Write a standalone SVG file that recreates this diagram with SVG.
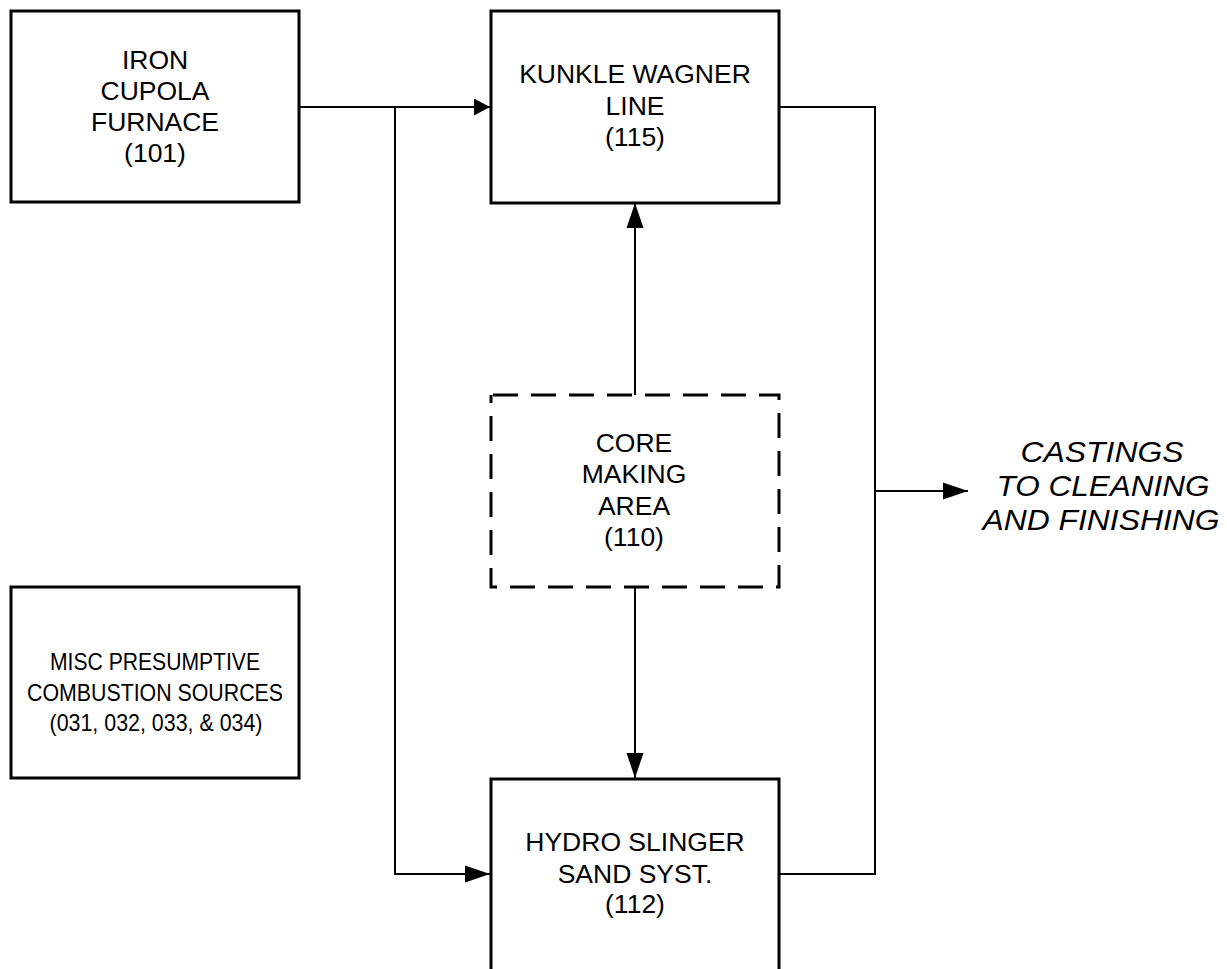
<svg xmlns="http://www.w3.org/2000/svg" width="1227" height="969" viewBox="0 0 1227 969">
  <style>
    .box { fill: #ffffff; stroke: #000000; stroke-width: 3; }
    .dash { fill: #ffffff; stroke: #000000; stroke-width: 3; stroke-dasharray: 25 13; stroke-dashoffset: -2; }
    .lbl { font-family: "Liberation Sans", Arial, sans-serif; font-size: 26.5px; fill: #000000; text-anchor: middle; }
    .small { font-size: 24px; }
    .out { font-family: "Liberation Sans", Arial, sans-serif; font-size: 29px; font-style: italic; fill: #000000; text-anchor: middle; }
    .conn { fill: none; stroke: #000000; stroke-width: 2; }
  </style>
  <defs>
    <marker id="arrL" markerUnits="userSpaceOnUse" markerWidth="25" markerHeight="18" refX="25" refY="9" orient="auto">
      <path d="M0,0.5 L25,9 L0,17.5 Z" fill="#000000"/>
    </marker>
    <marker id="arrS" markerUnits="userSpaceOnUse" markerWidth="16" markerHeight="17" refX="16" refY="8.5" orient="auto">
      <path d="M0,0 L16,8.5 L0,17 Z" fill="#000000"/>
    </marker>
  </defs>
  <rect width="1227" height="969" fill="#ffffff"/>

  <g id="connectors">
    <path class="conn" d="M299,107 L490,107" marker-end="url(#arrS)"/>
    <path class="conn" d="M395,107 L395,874 L490,874" marker-end="url(#arrL)"/>
    <path class="conn" d="M635,395 L635,203" marker-end="url(#arrL)"/>
    <path class="conn" d="M635,587 L635,778" marker-end="url(#arrL)"/>
    <path class="conn" d="M779,107 L875,107 L875,874 L779,874"/>
    <path class="conn" d="M875,491 L968,491" marker-end="url(#arrL)"/>
  </g>

  <g id="iron-cupola">
    <rect class="box" x="11" y="11" width="288" height="191"/>
    <text class="lbl" x="155" y="69">IRON</text>
    <text class="lbl" x="155" y="100">CUPOLA</text>
    <text class="lbl" x="155" y="131">FURNACE</text>
    <text class="lbl" x="155" y="162">(101)</text>
  </g>

  <g id="kunkle-wagner">
    <rect class="box" x="491" y="11" width="288" height="192"/>
    <text class="lbl" x="635" y="83">KUNKLE WAGNER</text>
    <text class="lbl" x="635" y="115">LINE</text>
    <text class="lbl" x="635" y="146">(115)</text>
  </g>

  <g id="core-making">
    <rect class="dash" x="491" y="395" width="288" height="192"/>
    <text class="lbl" x="634" y="452">CORE</text>
    <text class="lbl" x="634" y="483">MAKING</text>
    <text class="lbl" x="634" y="515">AREA</text>
    <text class="lbl" x="634" y="546">(110)</text>
  </g>

  <g id="hydro-slinger">
    <rect class="box" x="491" y="779" width="288" height="230"/>
    <text class="lbl" x="635" y="851">HYDRO SLINGER</text>
    <text class="lbl" x="635" y="883">SAND SYST.</text>
    <text class="lbl" x="635" y="913">(112)</text>
  </g>

  <g id="misc-combustion">
    <rect class="box" x="11" y="587" width="288" height="191"/>
    <text class="lbl small" x="155" y="670" textLength="210" lengthAdjust="spacingAndGlyphs">MISC PRESUMPTIVE</text>
    <text class="lbl small" x="155" y="701" textLength="256" lengthAdjust="spacingAndGlyphs">COMBUSTION SOURCES</text>
    <text class="lbl small" x="156" y="731" textLength="213" lengthAdjust="spacingAndGlyphs">(031, 032, 033, &amp; 034)</text>
  </g>

  <g id="castings-output">
    <text class="out" x="1102" y="462" textLength="163" lengthAdjust="spacingAndGlyphs">CASTINGS</text>
    <text class="out" x="1103" y="496" textLength="213" lengthAdjust="spacingAndGlyphs">TO CLEANING</text>
    <text class="out" x="1101" y="530" textLength="237" lengthAdjust="spacingAndGlyphs">AND FINISHING</text>
  </g>
</svg>
